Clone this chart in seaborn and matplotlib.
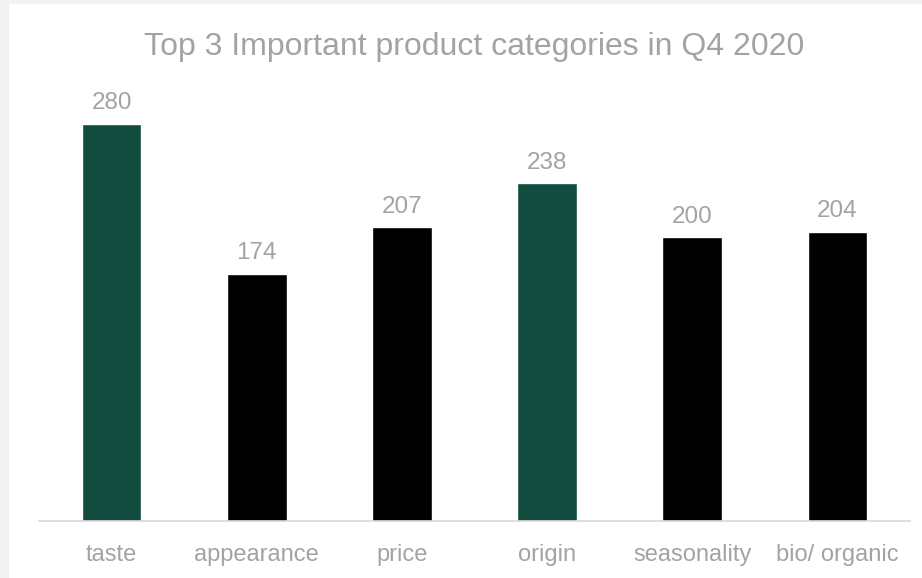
import matplotlib
matplotlib.use("Agg")
import matplotlib.pyplot as plt
import seaborn as sns
import pandas as pd

categories = ["taste", "appearance", "price", "origin", "seasonality", "bio/ organic"]
counts = [280, 174, 207, 238, 200, 204]
highlight = ["taste", "origin"]

GREEN = "#114c3e"
TEXT = "#a3a3a3"

sns.set_theme(style="white")
plt.rcParams["font.family"] = ["Liberation Sans", "DejaVu Sans"]

df = pd.DataFrame({"category": categories, "count": counts})
palette = {c: (GREEN if c in highlight else "#000000") for c in categories}

fig = plt.figure(figsize=(9.22, 5.78), dpi=100, facecolor="#f2f2f2")
# white chart panel inside the thin grey frame
panel = fig.add_axes([9 / 922, 0, 1 - 9 / 922, 1 - 4 / 578])
panel.set_facecolor("white")
panel.set_xticks([]); panel.set_yticks([])
for s in panel.spines.values():
    s.set_visible(False)
panel.set_zorder(0)

ax = fig.add_axes([39 / 922, 1 - 520.5 / 578, 871 / 922, (520.5 - 95.7) / 578])
ax.set_zorder(1)
ax.patch.set_alpha(0)
sns.barplot(data=df, x="category", y="count", hue="category", palette=palette,
            order=categories, width=0.41, legend=False, saturation=1, ax=ax)

ax.set_ylim(0, 300)
ax.set_xlim(-0.5, len(categories) - 0.5)
for c in ax.containers:
    ax.bar_label(c, fmt="%d", padding=7, fontsize=17.5, color=TEXT, clip_on=False)

ax.set_xlabel("")
ax.set_ylabel("")
ax.set_yticks([])
ax.tick_params(axis="x", length=0, pad=17, labelsize=17, labelcolor=TEXT)
for side in ["top", "right", "left"]:
    ax.spines[side].set_visible(False)
ax.spines["bottom"].set_color("#d9d9d9")
ax.spines["bottom"].set_linewidth(1.2)

fig.text(474.5 / 922, 1 - 47 / 578, "Top 3 Important product categories in Q4 2020",
         ha="center", va="center", fontsize=23, color=TEXT)

fig.savefig("out.png", dpi=100, facecolor=fig.get_facecolor())
